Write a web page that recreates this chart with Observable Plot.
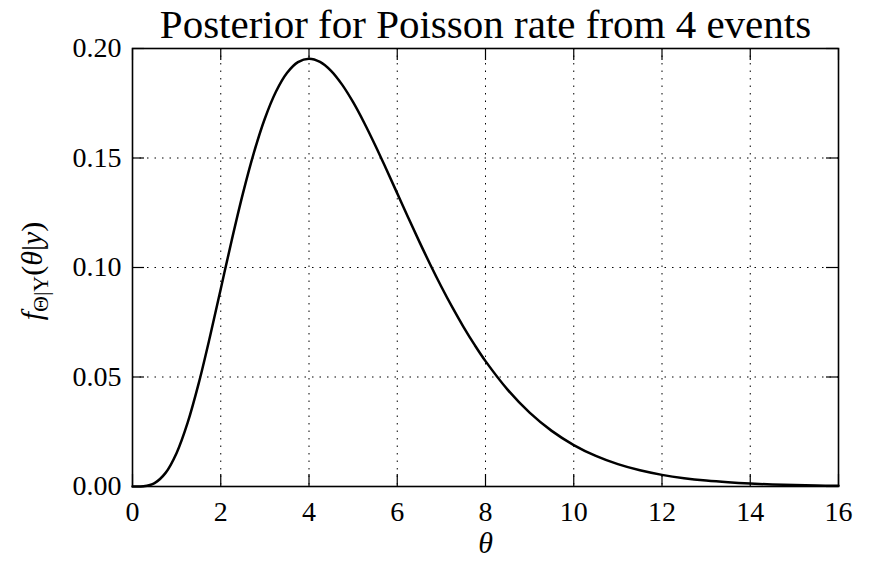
<!DOCTYPE html>
<html>
<head>
<meta charset="utf-8">
<script src="https://cdn.jsdelivr.net/npm/d3@7"></script>
<script src="https://cdn.jsdelivr.net/npm/@observablehq/plot@0.6"></script>
<style>
  html, body { margin: 0; padding: 0; background: #fff; }
  svg { display: block; }
  svg text { font-family: "Liberation Serif", serif; }
</style>
</head>
<body>
<div id="chart"></div>
<script>
// Values
const theta = [0, 0.25, 0.5, 0.75, 1, 1.25, 1.5, 1.75, 2, 2.25, 2.5, 2.75, 3, 3.25, 3.5, 3.75,
  4, 4.25, 4.5, 4.75, 5, 5.25, 5.5, 5.75, 6, 6.25, 6.5, 6.75, 7, 7.25, 7.5, 7.75, 8,
  8.5, 9, 9.5, 10, 10.5, 11, 11.5, 12, 12.5, 13, 13.5, 14, 14.5, 15, 15.5, 16];
const density = [0, 0.00013, 0.00158, 0.00623, 0.01533, 0.02914, 0.04707, 0.06791, 0.09022,
  0.11255, 0.13360, 0.15234, 0.16803, 0.18025, 0.18881, 0.19378, 0.19537, 0.19390, 0.18981,
  0.18351, 0.17547, 0.16610, 0.15582, 0.14496, 0.13385, 0.12274, 0.11182, 0.10128, 0.09123,
  0.08175, 0.07292, 0.06475, 0.05725, 0.04426, 0.03374, 0.02540, 0.01892, 0.01395, 0.01019,
  0.00738, 0.00531, 0.00379, 0.00269, 0.00190, 0.00133, 0.00093, 0.00065, 0.00045, 0.00031];
const xTicks = [0, 2, 4, 6, 8, 10, 12, 14, 16];
const yTicks = [0, 0.05, 0.10, 0.15, 0.20];
const title = "Posterior for Poisson rate from 4 events";
const xLabel = "θ";

const data = theta.map((t, i) => ({theta: t, f: density[i]}));

const W = 873, H = 561;
const mL = 132, mR = 35, mT = 48, mB = 75;
const frameW = W - mL - mR, frameH = H - mT - mB;
const tickLen = 12;
const FONT = "Liberation Serif";

const chart = Plot.plot({
  width: W,
  height: H,
  marginLeft: mL,
  marginRight: mR,
  marginTop: mT,
  marginBottom: mB,
  style: {fontFamily: FONT, background: "#fff", color: "#000"},
  x: {domain: [0, 16]},
  y: {domain: [0, 0.2]},
  marks: [
    Plot.gridX(xTicks, {stroke: "#000", strokeOpacity: 1, strokeWidth: 1, strokeDasharray: "1.5,6"}),
    Plot.gridY(yTicks, {stroke: "#000", strokeOpacity: 1, strokeWidth: 1, strokeDasharray: "1.5,6"}),
    Plot.tickX(xTicks, {x: d => d, insetTop: frameH - tickLen, stroke: "#000", strokeWidth: 1.2}),
    Plot.tickX(xTicks, {x: d => d, insetBottom: frameH - tickLen, stroke: "#000", strokeWidth: 1.2}),
    Plot.tickY(yTicks, {y: d => d, insetRight: frameW - tickLen, stroke: "#000", strokeWidth: 1.2}),
    Plot.tickY(yTicks, {y: d => d, insetLeft: frameW - tickLen, stroke: "#000", strokeWidth: 1.2}),
    Plot.line(data, {x: "theta", y: "f", stroke: "#000", strokeWidth: 2.5, curve: "catmull-rom"}),
    Plot.frame({stroke: "#000", strokeWidth: 1.6}),
    Plot.axisX(xTicks, {tickSize: 0, tickPadding: 15, fontSize: 28, fontFamily: FONT, label: null, tickFormat: d3.format("d")}),
    Plot.axisY(yTicks, {tickSize: 0, tickPadding: 11, fontSize: 28, fontFamily: FONT, label: null, tickFormat: d3.format(".2f")}),
    Plot.text([title], {frameAnchor: "top", lineAnchor: "bottom", dy: -11, fontSize: 41, fontFamily: FONT, fill: "#000"}),
    Plot.text([xLabel], {frameAnchor: "bottom", lineAnchor: "middle", dy: 57, fontSize: 30, fontFamily: FONT, fontStyle: "italic", fill: "#000"})
  ]
});

document.getElementById("chart").appendChild(chart);

// y-axis label with subscript: f_{Θ|Y}(θ|y)
const svg = d3.select(chart);
const yl = svg.append("text")
  .attr("transform", `translate(42, ${mT + frameH / 2 + 4}) rotate(-90)`)
  .attr("text-anchor", "middle")
  .attr("font-family", FONT)
  .attr("font-size", 30)
  .attr("fill", "#000");
yl.append("tspan").attr("font-style", "italic").text("f");
yl.append("tspan").attr("font-size", 22).attr("dy", 6).text("Θ|Y");
yl.append("tspan").attr("dy", -6).text("(");
yl.append("tspan").attr("font-style", "italic").text("θ");
yl.append("tspan").text("|");
yl.append("tspan").attr("font-style", "italic").text("y");
yl.append("tspan").text(")");
</script>
</body>
</html>
